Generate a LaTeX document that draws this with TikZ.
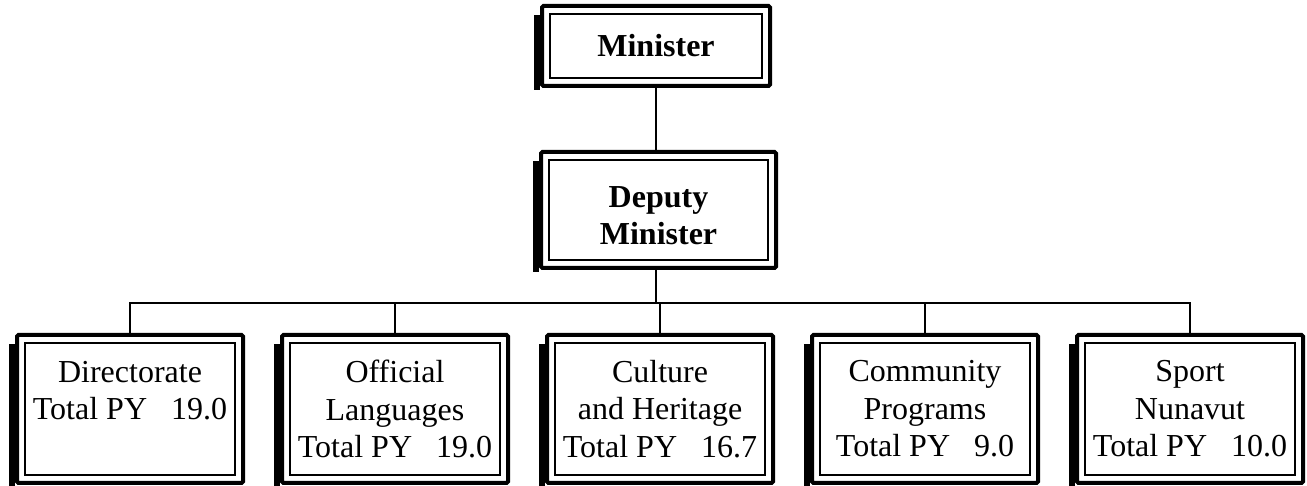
\documentclass[tikz,border=0pt]{standalone}
\usepackage{fontspec}
\setmainfont{Liberation Serif}
\usetikzlibrary{calc}

\begin{document}
\begin{tikzpicture}[x=1pt,y=1pt]
          \tikzstyle{obox} = [draw, line width=4pt, fill=white, rounded corners=1.5pt, inner sep=0pt, align=center,
            font=\fontsize{32}{37.5}\selectfont,
            path picture={\draw[line width=1.5pt, sharp corners] ([shift={(8pt,8pt)}]path picture bounding box.south west) rectangle ([shift={(-8pt,-8pt)}]path picture bounding box.north east);}]
          \tikzstyle{tbox} = [obox, font=\fontsize{32}{37}\selectfont\bfseries]
          \tikzstyle{conn} = [line width=1.6pt]

          \useasboundingbox (0,0) rectangle (1307,486);

          \node[tbox, minimum width=228pt, minimum height=80pt] (min) at (656,440) {Minister};
          \node[tbox, minimum width=235pt, minimum height=116pt] (dep) at (658.5,276) {\rule{0pt}{33pt}Deputy\\Minister};
          \coordinate (bus) at (656,183);

          \foreach \name/\x/\txt in {dir/130/{Directorate\\Total PY~~~19.0\\\mbox{}},
                                     off/395/{Official\\Languages\\Total PY~~~19.0},
                                     cul/660/{Culture\\and Heritage\\Total PY~~~16.7},
                                     com/925/{Community\\Programs\\Total PY~~~9.0},
                                     spo/1190/{Sport\\Nunavut\\Total PY~~~10.0}}
            \node[obox, minimum width=226pt, minimum height=148pt] (\name) at (\x,77) {\txt};

          % connectors
          \draw[conn] (min.south) -- (min.south |- dep.north);
          \draw[conn] (bus |- dep.south) -- (bus);
          \foreach \name in {dir,off,cul,com,spo}
            \draw[conn] (bus) -| (\name.north);

          % shadows on the left side
          \foreach \name in {min,dep,dir,off,cul,com,spo}
            \fill ([xshift=-6pt,yshift=-2pt]\name.south west) rectangle ([yshift=-11pt]\name.north west);
        \end{tikzpicture}
\end{document}
